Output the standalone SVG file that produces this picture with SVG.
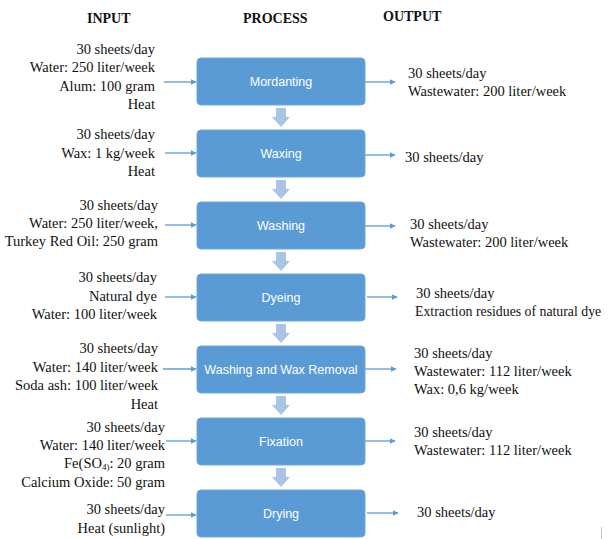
<svg xmlns="http://www.w3.org/2000/svg" width="609" height="539" viewBox="0 0 609 539">
  <style>
    .hdr { font-family: "Liberation Serif", "Times New Roman", serif; font-size: 14px; font-weight: bold; fill: #111; }
    .in { font-family: "Liberation Serif", "Times New Roman", serif; font-size: 14.5px; fill: #111; text-anchor: end; }
    .out { font-family: "Liberation Serif", "Times New Roman", serif; font-size: 14.5px; fill: #111; }
    .box { fill: #5b9bd5; stroke: #6fa8dc; stroke-width: 1; }
    .lbl { font-family: "Liberation Sans", Arial, sans-serif; font-size: 12.5px; fill: #ffffff; text-anchor: middle; }
    .flow { stroke: #5b9bd5; stroke-width: 1.3; fill: none; marker-end: url(#tip); }
    .step { fill: #a9c4e6; }
  </style>
  <defs>
    <marker id="tip" viewBox="0 0 10 10" refX="9" refY="5" markerWidth="6" markerHeight="6" markerUnits="userSpaceOnUse" orient="auto">
      <path d="M0,0 L10,5 L0,10 z" fill="#5b9bd5"/>
    </marker>
    <path id="down" d="M-5,0 H5 V9 H9 L0,19 L-9,9 H-5 z"/>
  </defs>

  <rect width="609" height="539" fill="#ffffff"/>

  <!-- column headings -->
  <text class="hdr" x="87" y="23">INPUT</text>
  <text class="hdr" x="243" y="23">PROCESS</text>
  <text class="hdr" x="383" y="21">OUTPUT</text>

  <!-- process steps -->
  <g id="mordanting">
    <rect class="box" x="197" y="58" width="168" height="47" rx="4"/>
    <text class="lbl" x="281" y="86">Mordanting</text>
  </g>
  <g id="waxing">
    <rect class="box" x="197" y="130" width="168" height="47" rx="4"/>
    <text class="lbl" x="281" y="158">Waxing</text>
  </g>
  <g id="washing">
    <rect class="box" x="197" y="202" width="168" height="47" rx="4"/>
    <text class="lbl" x="281" y="230">Washing</text>
  </g>
  <g id="dyeing">
    <rect class="box" x="197" y="274" width="168" height="47" rx="4"/>
    <text class="lbl" x="281" y="302">Dyeing</text>
  </g>
  <g id="wax-removal">
    <rect class="box" x="197" y="346" width="168" height="47" rx="4"/>
    <text class="lbl" x="281" y="374">Washing and Wax Removal</text>
  </g>
  <g id="fixation">
    <rect class="box" x="197" y="418" width="168" height="47" rx="4"/>
    <text class="lbl" x="281" y="446">Fixation</text>
  </g>
  <g id="drying">
    <rect class="box" x="197" y="490" width="168" height="47" rx="4"/>
    <text class="lbl" x="281" y="518">Drying</text>
  </g>

  <!-- inputs -->
  <g id="inputs">
    <text class="in" x="155" y="54">30 sheets/day</text>
    <text class="in" x="155" y="72">Water: 250 liter/week</text>
    <text class="in" x="155" y="91">Alum: 100 gram</text>
    <text class="in" x="155" y="109">Heat</text>

    <text class="in" x="155" y="139">30 sheets/day</text>
    <text class="in" x="155" y="158">Wax: 1 kg/week</text>
    <text class="in" x="155" y="176">Heat</text>

    <text class="in" x="158" y="210">30 sheets/day</text>
    <text class="in" x="158" y="228">Water: 250 liter/week,</text>
    <text class="in" x="158" y="246">Turkey Red Oil: 250 gram</text>

    <text class="in" x="157" y="282">30 sheets/day</text>
    <text class="in" x="157" y="301">Natural dye</text>
    <text class="in" x="157" y="319">Water: 100 liter/week</text>

    <text class="in" x="158" y="353">30 sheets/day</text>
    <text class="in" x="158" y="372">Water: 140 liter/week</text>
    <text class="in" x="158" y="390">Soda ash: 100 liter/week</text>
    <text class="in" x="158" y="409">Heat</text>

    <text class="in" x="165" y="432">30 sheets/day</text>
    <text class="in" x="165" y="450">Water: 140 liter/week</text>
    <text class="in" x="165" y="468">Fe(SO<tspan font-size="9" dy="2">4)</tspan><tspan dy="-2">: 20 gram</tspan></text>
    <text class="in" x="165" y="487">Calcium Oxide: 50 gram</text>

    <text class="in" x="165" y="514">30 sheets/day</text>
    <text class="in" x="165" y="533">Heat (sunlight)</text>
  </g>

  <!-- outputs -->
  <g id="outputs">
    <text class="out" x="408" y="78">30 sheets/day</text>
    <text class="out" x="408" y="96">Wastewater: 200 liter/week</text>

    <text class="out" x="405" y="162">30 sheets/day</text>

    <text class="out" x="410" y="229">30 sheets/day</text>
    <text class="out" x="410" y="247">Wastewater: 200 liter/week</text>

    <text class="out" x="416" y="298">30 sheets/day</text>
    <text class="out" x="415" y="316" style="font-size:13.8px">Extraction residues of natural dye</text>

    <text class="out" x="414" y="358">30 sheets/day</text>
    <text class="out" x="414" y="376">Wastewater: 112 liter/week</text>
    <text class="out" x="414" y="394">Wax: 0,6 kg/week</text>

    <text class="out" x="414" y="437">30 sheets/day</text>
    <text class="out" x="414" y="455">Wastewater: 112 liter/week</text>

    <text class="out" x="417" y="517">30 sheets/day</text>
  </g>

  <!-- connectors -->
  <g id="connectors">
    <!-- feeds into each step -->
    <line class="flow" x1="164" y1="82" x2="196" y2="82"/>
    <line class="flow" x1="165" y1="153" x2="196" y2="153"/>
    <line class="flow" x1="165" y1="225" x2="196" y2="225"/>
    <line class="flow" x1="165" y1="297" x2="196" y2="297"/>
    <line class="flow" x1="163" y1="369" x2="196" y2="369"/>
    <line class="flow" x1="166" y1="441" x2="196" y2="441"/>
    <line class="flow" x1="166" y1="515" x2="196" y2="515"/>

    <!-- products leaving each step -->
    <line class="flow" x1="365" y1="82" x2="395" y2="82"/>
    <line class="flow" x1="365" y1="155" x2="395" y2="155"/>
    <line class="flow" x1="365" y1="226" x2="395" y2="226"/>
    <line class="flow" x1="367" y1="297" x2="397" y2="297"/>
    <line class="flow" x1="365" y1="369" x2="396" y2="369"/>
    <line class="flow" x1="365" y1="441" x2="395" y2="441"/>
    <line class="flow" x1="367" y1="513" x2="398" y2="513"/>

    <!-- step-to-step block arrows -->
    <use class="step" href="#down" x="281" y="108"/>
    <use class="step" href="#down" x="281" y="180"/>
    <use class="step" href="#down" x="281" y="252"/>
    <use class="step" href="#down" x="281" y="324"/>
    <use class="step" href="#down" x="281" y="396"/>
    <use class="step" href="#down" x="281" y="468"/>
  </g>

  <line x1="601.5" y1="527" x2="601.5" y2="539" stroke="#c8c8c8" stroke-width="1"/>
</svg>
